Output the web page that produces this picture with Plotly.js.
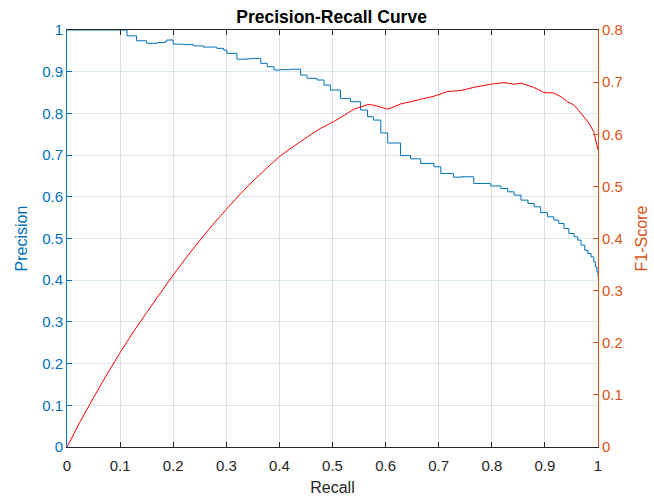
<!DOCTYPE html>
<html>
<head>
<meta charset="utf-8">
<script src="https://cdn.plot.ly/plotly-3.0.1.min.js"></script>
<style>html,body{margin:0;padding:0;background:#fff;}#chart{width:654px;height:503px;}</style>
</head>
<body>
<div id="chart"></div>
<script>
// Precision curve
const precRecall = [0,0.092,0.113,0.131,0.15,0.17,0.185,0.188,0.20,0.216,0.219,0.238,0.257,0.282,0.295,0.301,0.32,0.339,0.351,0.365,0.377,0.39,0.402,0.421,0.44,0.452,0.471,0.484,0.496,0.515,0.534,0.553,0.566,0.577,0.591,0.604,0.628,0.647,0.666,0.691,0.704,0.728,0.742,0.766,0.798,0.817,0.830,0.842,0.855,0.868,0.880,0.892,0.905,0.917,0.926,0.936,0.945,0.955,0.962,0.968,0.975,0.981,0.987,0.992,0.995,0.998,1.0];
const precision  = [1.0,1.0,0.986,0.974,0.968,0.970,0.973,0.976,0.966,0.966,0.965,0.962,0.959,0.956,0.952,0.944,0.930,0.931,0.932,0.920,0.912,0.904,0.905,0.906,0.892,0.884,0.880,0.868,0.856,0.836,0.828,0.808,0.792,0.784,0.753,0.729,0.699,0.691,0.680,0.672,0.656,0.647,0.648,0.632,0.626,0.620,0.612,0.604,0.592,0.584,0.576,0.562,0.552,0.544,0.536,0.524,0.512,0.504,0.496,0.484,0.472,0.464,0.456,0.444,0.432,0.420,0.408,0.396];
// F1-score curve
const f1Recall = [0,0.025,0.05,0.075,0.1,0.125,0.15,0.175,0.2,0.225,0.25,0.275,0.3,0.325,0.35,0.375,0.4,0.42,0.44,0.46,0.477,0.502,0.520,0.540,0.566,0.577,0.604,0.628,0.666,0.691,0.717,0.742,0.766,0.798,0.823,0.842,0.855,0.879,0.898,0.917,0.930,0.943,0.955,0.968,0.981,0.992,1.0];
const f1Score  = [0,0.049,0.095,0.139,0.181,0.221,0.258,0.294,0.330,0.364,0.396,0.427,0.456,0.484,0.510,0.534,0.557,0.572,0.586,0.600,0.611,0.624,0.635,0.648,0.657,0.656,0.648,0.658,0.667,0.673,0.682,0.684,0.690,0.696,0.699,0.696,0.698,0.690,0.680,0.679,0.672,0.662,0.656,0.640,0.624,0.605,0.570];
// Tick labels
const xTickVals = [0,0.1,0.2,0.3,0.4,0.5,0.6,0.7,0.8,0.9,1];
const xTickText = ['0','0.1','0.2','0.3','0.4','0.5','0.6','0.7','0.8','0.9','1'];
const yTickVals = [0,0.1,0.2,0.3,0.4,0.5,0.6,0.7,0.8,0.9,1];
const yTickText = ['0','0.1','0.2','0.3','0.4','0.5','0.6','0.7','0.8','0.9','1'];
const y2TickVals = [0,0.1,0.2,0.3,0.4,0.5,0.6,0.7,0.8];
const y2TickText = ['0','0.1','0.2','0.3','0.4','0.5','0.6','0.7','0.8'];

const FONT = 'Liberation Sans, Arial, Helvetica, sans-serif';
const BLUE = '#0072BD', ORANGE = '#D95319', DARK = '#262626';

const traces = [
  {x: precRecall, y: precision, type: 'scatter', mode: 'lines', line: {color: BLUE, width: 1, shape: 'hv', simplify: false}, yaxis: 'y', hoverinfo: 'skip'},
  {x: f1Recall, y: f1Score, type: 'scatter', mode: 'lines', line: {color: '#FF0000', width: 1, simplify: false}, yaxis: 'y2', hoverinfo: 'skip'}
];

const layout = {
  width: 654, height: 503,
  margin: {l: 67, r: 56, t: 30, b: 56},
  paper_bgcolor: '#fff', plot_bgcolor: '#fff',
  showlegend: false,
  font: {family: FONT, size: 15, color: DARK},
  title: {text: '<b>Precision-Recall Curve</b>', font: {family: FONT, size: 17.5, color: '#000'}, x: 0.507, xanchor: 'center', y: 0.967, yanchor: 'middle', yref: 'container'},
  xaxis: {
    range: [0, 1], tickmode: 'array', tickvals: xTickVals, ticktext: xTickText,
    showline: true, linecolor: DARK, linewidth: 1, mirror: 'ticks',
    ticks: 'inside', ticklen: 5, tickcolor: DARK, tickwidth: 1,
    tickfont: {family: FONT, size: 15, color: DARK}, ticklabelstandoff: 5,
    showgrid: true, gridcolor: 'rgba(38,38,38,0.15)', gridwidth: 1, zeroline: false,
    title: {text: 'Recall', font: {family: FONT, size: 16, color: DARK}, standoff: 8}
  },
  yaxis: {
    range: [0, 1], tickmode: 'array', tickvals: yTickVals, ticktext: yTickText,
    showline: true, linecolor: BLUE, linewidth: 1,
    ticks: 'inside', ticklen: 5, tickcolor: BLUE, tickwidth: 1,
    tickfont: {family: FONT, size: 15, color: BLUE},
    showgrid: true, gridcolor: 'rgba(0,114,189,0.15)', gridwidth: 1, zeroline: false,
    title: {text: 'Precision', font: {family: FONT, size: 16, color: BLUE}, standoff: 10}
  },
  yaxis2: {
    range: [0, 0.8], overlaying: 'y', side: 'right', tickmode: 'array', tickvals: y2TickVals, ticktext: y2TickText,
    showline: true, linecolor: ORANGE, linewidth: 1,
    ticks: 'inside', ticklen: 5, tickcolor: ORANGE, tickwidth: 1,
    tickfont: {family: FONT, size: 15, color: ORANGE},
    showgrid: false, zeroline: false,
    title: {text: 'F1-Score', font: {family: FONT, size: 16, color: ORANGE}, standoff: 13}
  }
};

Plotly.newPlot('chart', traces, layout, {staticPlot: true, displayModeBar: false});
</script>
</body>
</html>
